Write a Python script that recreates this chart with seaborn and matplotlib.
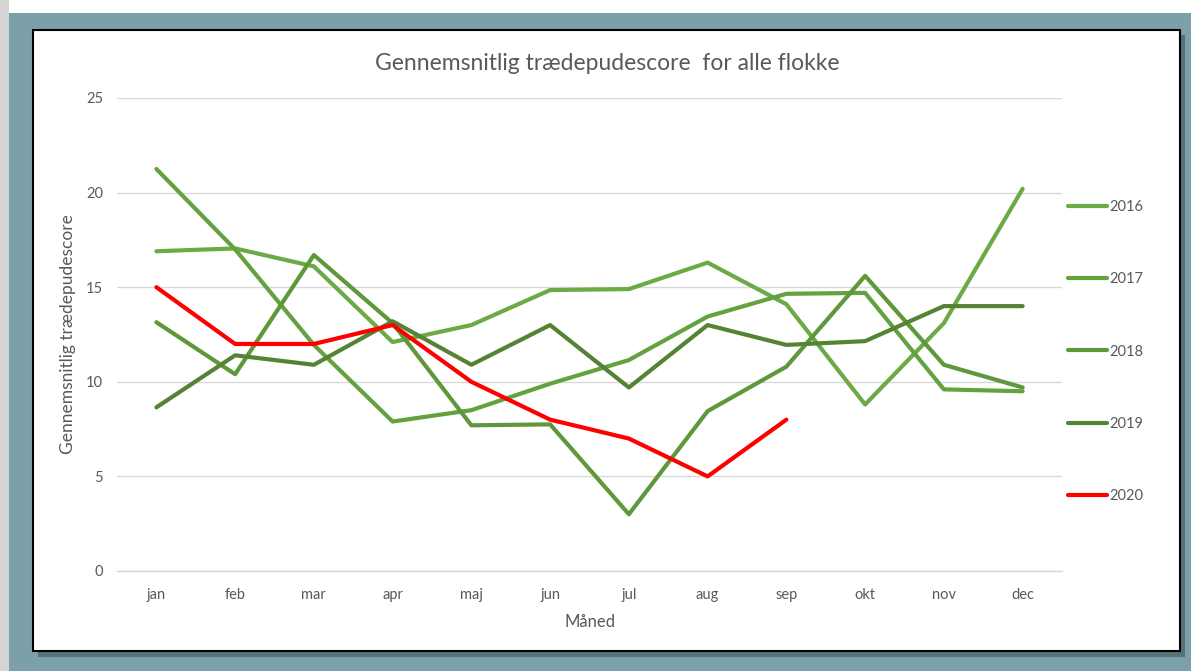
import matplotlib
matplotlib.use("Agg")
import matplotlib.pyplot as plt
import seaborn as sns
import pandas as pd
import numpy as np
from matplotlib.patches import Rectangle

months = ["jan", "feb", "mar", "apr", "maj", "jun", "jul", "aug", "sep", "okt", "nov", "dec"]
years = ["2016", "2017", "2018", "2019", "2020"]
v2016 = [16.9, 17.05, 16.1, 12.1, 13.0, 14.85, 14.9, 16.3, 14.1, 8.8, 13.1, 20.2]
v2017 = [21.25, 17.0, 11.95, 7.9, 8.5, 9.9, 11.15, 13.45, 14.65, 14.7, 9.6, 9.5]
v2018 = [13.15, 10.4, 16.7, 13.1, 7.7, 7.75, 3.0, 8.45, 10.8, 15.6, 10.9, 9.7]
v2019 = [8.65, 11.4, 10.9, 13.2, 10.9, 13.0, 9.7, 13.0, 11.95, 12.15, 14.0, 14.0]
v2020 = [15.0, 12.0, 12.0, 13.0, 10.0, 8.0, 7.0, 5.0, 8.0]
colors = {"2016": "#6CAA45", "2017": "#64A13F", "2018": "#5E983A", "2019": "#548433", "2020": "#FF0000"}

series = dict(zip(years, [v2016, v2017, v2018, v2019, v2020]))
rows = []
for y, vals in series.items():
    for i, v in enumerate(vals):
        rows.append({"Måned": months[i], "idx": i, "year": y, "value": v})
df = pd.DataFrame(rows)

sns.set_theme(style="white")
plt.rcParams["font.family"] = ["Lato", "DejaVu Sans"]

W, H = 1191, 671
fig = plt.figure(figsize=(W / 100, H / 100), dpi=100, facecolor="white")

def fr(x0, y0, x1, y1, **kw):
    # pixel box (top-left origin) to figure rectangle
    return Rectangle((x0 / W, 1 - y1 / H), (x1 - x0) / W, (y1 - y0) / H,
                     transform=fig.transFigure, **kw)

fig.patches.append(fr(0, 0, 9, H, facecolor="#D4D4D4", edgecolor="none", zorder=0))
fig.patches.append(fr(9, 13, W, H, facecolor="#7BA0A9", edgecolor="none", zorder=0))
fig.patches.append(fr(38, 35, 1185, 657, facecolor="#3E5358", edgecolor="none", alpha=0.6, zorder=0))
fig.patches.append(fr(33, 30, 1180, 651, facecolor="white", edgecolor="black", linewidth=1.5, zorder=0.5))

ax = fig.add_axes([117 / W, 1 - 571 / H, (1062 - 117) / W, (571 - 98) / H])
ax.set_facecolor("none")
ax.set_zorder(2)

sns.lineplot(data=df, x="idx", y="value", hue="year", palette=colors,
             hue_order=years, linewidth=3, ax=ax, sort=False)

ax.set_xlim(-0.5, 11.5)
ax.set_ylim(0, 25)
ax.set_yticks([0, 5, 10, 15, 20, 25])
ax.set_xticks(range(12))
ax.set_xticklabels(months)
ax.set_xticks(np.arange(-0.5, 12, 1), minor=True)
ax.tick_params(axis="x", which="major", length=0, pad=12, labelsize=10.5, labelcolor="#595959")
ax.tick_params(axis="x", which="minor", length=5, width=1, color="#D9D9D9", direction="out")
ax.tick_params(axis="y", length=0, pad=10, labelsize=10.5, labelcolor="#595959")
ax.grid(axis="y", color="#D9D9D9", linewidth=1)
ax.grid(axis="x", visible=False)
for s in ["left", "right", "top"]:
    ax.spines[s].set_visible(False)
ax.spines["bottom"].set_color("#D9D9D9")
ax.spines["bottom"].set_linewidth(1)

ax.set_xlabel("Måned", fontsize=12, color="#595959", labelpad=9)
ax.set_ylabel("Gennemsnitlig trædepudescore", fontsize=12.5, color="#595959", labelpad=7)
title = ax.set_title("Gennemsnitlig trædepudescore  for alle flokke", fontsize=16.5, color="#595959", pad=20)
title.set_x((607 - 117) / (1062 - 117))

handles, labels = ax.get_legend_handles_labels()
leg = ax.legend(handles, labels, loc="upper left", bbox_to_anchor=(1.0, 0.797),
                frameon=False, fontsize=10.5, labelspacing=4.0, handlelength=2.7,
                handletextpad=0.15, borderaxespad=0)
for t in leg.get_texts():
    t.set_color("#595959")
for l in leg.get_lines():
    l.set_linewidth(3)

fig.savefig("out.png", dpi=100, facecolor=fig.get_facecolor())
